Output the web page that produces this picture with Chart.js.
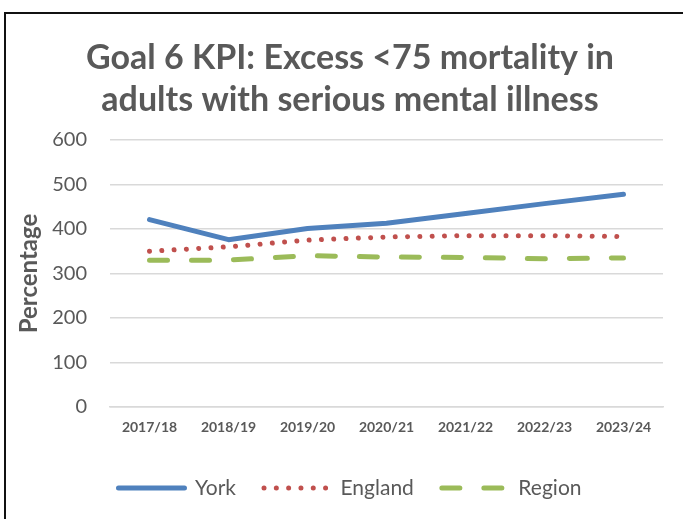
<!DOCTYPE html>
<html>
<head>
<meta charset="utf-8">
<script src="https://cdn.jsdelivr.net/npm/chart.js@4"></script>
<style>
  html, body { margin: 0; padding: 0; background: #fff; }
  #wrap { position: relative; width: 683px; height: 519px; overflow: hidden; }
  #frame { position: absolute; left: 4px; top: 12px; width: 700px; height: 600px;
           border-left: 2px solid #111; border-top: 2px solid #111; }
  #chart { position: absolute; left: 0; top: 0; }
</style>
</head>
<body>
<div id="wrap">
  <div id="frame"></div>
  <canvas id="chart" width="683" height="519"></canvas>
</div>
<script>
// data
const years = ['2017/18', '2018/19', '2019/20', '2020/21', '2021/22', '2022/23', '2023/24'];
const york = [421, 376, 401, 413, 435, 457, 478];
const england = [350, 360, 375, 382, 385, 385, 383];
const region = [330, 330, 340, 337, 336, 333, 335];
const titleLines = ['Goal 6 KPI: Excess <75 mortality in', 'adults with serious mental illness'];

const grey = '#595959';
const font = 'Lato';

const ctx = document.getElementById('chart');

// legend keeps the dash pattern of each series
function legendLabels(chart) {
  const items = Chart.defaults.plugins.legend.labels.generateLabels(chart);
  items.forEach((item) => {
    const ds = chart.data.datasets[item.datasetIndex];
    item.lineDash = ds.borderDash || [];
    item.lineCap = 'round';
    item.lineWidth = 5;
    item.strokeStyle = ds.borderColor;
  });
  return items;
}

new Chart(ctx, {
  type: 'line',
  data: {
    labels: years,
    datasets: [
      {
        label: 'York',
        data: york,
        borderColor: '#4F81BD',
        backgroundColor: '#4F81BD',
        borderWidth: 5,
        borderCapStyle: 'round',
        borderJoinStyle: 'round',
      },
      {
        label: 'England',
        data: england,
        borderColor: '#C0504D',
        backgroundColor: '#C0504D',
        borderWidth: 5,
        borderDash: [0.01, 12.3],
        borderCapStyle: 'round',
      },
      {
        label: 'Region',
        data: region,
        borderColor: '#9BBB59',
        backgroundColor: '#9BBB59',
        borderWidth: 5,
        borderDash: [18, 24],
        borderCapStyle: 'round',
      },
    ],
  },
  options: {
    responsive: false,
    animation: false,
    layout: { padding: { left: 17, right: 0, top: 0, bottom: 10.5 } },
    elements: {
      point: { radius: 0, hoverRadius: 0 },
      line: { tension: 0 },
    },
    plugins: {
      tooltip: { enabled: false },
      title: {
        display: true,
        text: titleLines,
        color: grey,
        font: { family: font, size: 34, weight: 'bold', lineHeight: '42px' },
        padding: { top: 37, bottom: 19 },
      },
      legend: {
        position: 'bottom',
        labels: {
          usePointStyle: true,
          pointStyle: 'line',
          pointStyleWidth: 66,
          boxHeight: 21,
          padding: 28,
          color: grey,
          font: { family: font, size: 21 },
          generateLabels: legendLabels,
        },
      },
    },
    scales: {
      x: {
        offset: true,
        grid: { display: false, drawTicks: false },
        border: { display: true, color: '#d9d9d9', width: 1.5 },
        ticks: {
          color: grey,
          padding: 12,
          maxRotation: 0,
          font: { family: font, size: 14, weight: 'bold' },
        },
        afterFit: (s) => { s.height = 42.5; },
      },
      y: {
        min: 0,
        max: 600,
        ticks: {
          stepSize: 100,
          color: grey,
          padding: 23,
          font: { family: font, size: 20 },
        },
        grid: { color: '#d9d9d9', lineWidth: 1.5, drawTicks: false },
        border: { display: false },
        title: {
          display: true,
          text: 'Percentage',
          color: grey,
          padding: 0,
          font: { family: font, size: 24, weight: 'bold', lineHeight: 1 },
        },
        afterFit: (s) => { s.width = 93; },
      },
      y2: {
        position: 'right',
        display: true,
        grid: { display: false, drawTicks: false },
        border: { display: false },
        ticks: { display: false },
        afterFit: (s) => { s.width = 20; },
      },
    },
  },
});
</script>
</body>
</html>
